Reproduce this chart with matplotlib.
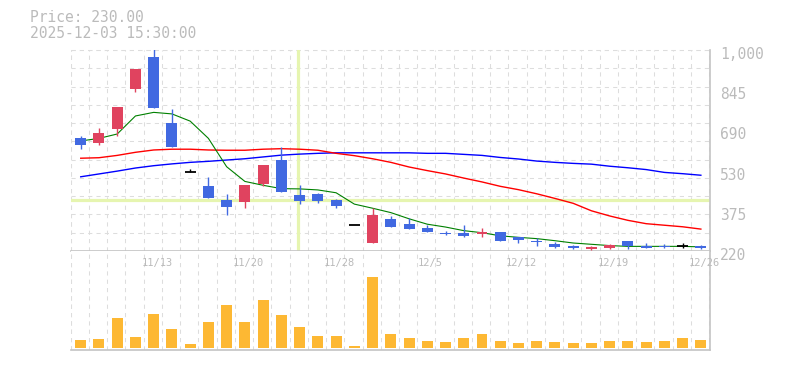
import numpy as np
import matplotlib
matplotlib.use("Agg")
import matplotlib.pyplot as plt

# daily candles, 2025-11-07 .. 2025-12-26
opens  = [657, 640, 695, 850, 973, 717, 525, 472, 418, 411, 480, 573, 437, 441, 418, 320, 252, 344,
          325, 310, 291, 289, 287, 294, 273, 260, 249, 241, 228, 233, 259, 239, 239, 239, 238]
highs  = [667, 697, 779, 926, 1010, 771, 538, 506, 441, 476, 554, 622, 476, 445, 422, 320, 386, 356,
          348, 321, 298, 321, 309, 294, 273, 270, 254, 245, 241, 248, 259, 251, 247, 251, 243]
lows   = [617, 632, 667, 838, 776, 624, 525, 427, 361, 388, 473, 450, 401, 407, 388, 320, 252, 314,
          307, 295, 282, 275, 274, 260, 252, 240, 232, 227, 225, 229, 229, 233, 231, 232, 227]
closes = [632, 678, 779, 926, 776, 624, 525, 427, 391, 476, 554, 450, 415, 415, 396, 320, 360, 314,
          307, 295, 286, 277, 294, 260, 261, 256, 235, 233, 237, 245, 238, 233, 236, 239, 231]
volume = [24, 27, 90, 33, 102, 57, 12, 78, 129, 78, 144, 99, 63, 36, 36, 6, 213, 42,
          30, 21, 18, 30, 42, 21, 15, 21, 18, 15, 15, 21, 21, 18, 21, 30, 24]

ma_short = [647, 657, 674, 744, 758, 752, 724, 657, 547, 490, 475, 462, 461, 457, 446, 402, 386, 369,
            345, 324, 313, 299, 291, 279, 273, 268, 260, 251, 246, 241, 238, 238, 238, 238, 236]
ma_mid = [580, 582, 591, 603, 612, 615, 615, 612, 611, 611, 615, 617, 615, 611, 599, 590, 578, 564,
          546, 532, 519, 503, 488, 471, 458, 442, 424, 405, 376, 356, 339, 326, 320, 314, 305]
ma_long = [508, 519, 530, 542, 551, 558, 564, 568, 573, 578, 585, 592, 596, 599, 601, 601, 601, 601,
           601, 599, 599, 595, 591, 583, 577, 569, 564, 560, 557, 549, 543, 536, 525, 520, 514]

date_pos = [4, 9, 14, 19, 24, 29, 34]
date_lbl = ["11/13", "11/20", "11/28", "12/5", "12/12", "12/19", "12/26"]
ytick_vals = [220, 375, 530, 690, 845, 1000]
ytick_lbl = ["220", "375", "530", "690", "845", "1,000"]

UP = "#e0435f"
DOWN = "#4169e1"
GRID = "#dddddd"
AXC = "#c4c4c4"
TXT = "#bbbbbb"
MONO = "DejaVu Sans Mono"

fig = plt.figure(figsize=(7.85, 3.7), dpi=100)
L, R = 70.7 / 785, 710 / 785
ax = fig.add_axes([L, 119 / 370, R - L, 201 / 370])
axv = fig.add_axes([L, 20 / 370, R - L, 99 / 370])

n = len(opens)
x = np.arange(n)
xlim = (-0.55, 34.5)
gridx = np.arange(-0.55, 34.5, 1.0)

for a in (ax, axv):
    a.set_xlim(*xlim)
    a.set_xticks([])
    a.set_xticks(gridx, minor=True)
    a.set_yticks([])
    a.tick_params(which="both", length=0)
    a.grid(which="minor", axis="x", color=GRID, ls=(0, (4, 4)), lw=0.75)
    for s in ("top", "left"):
        a.spines[s].set_visible(False)
    for s in ("right", "bottom"):
        a.spines[s].set_color(AXC)
        a.spines[s].set_linewidth(1.2)
    a.set_axisbelow(True)

# price panel
ax.set_ylim(220, 1000)
ax.set_yticks(np.linspace(220, 1000, 12), minor=True)
ax.grid(which="minor", axis="y", color=GRID, ls=(0, (4, 4)), lw=0.75)
ax.plot([xlim[0], xlim[0]], [220, 1000], color=GRID, ls=(0, (4, 4)), lw=0.75, zorder=0)
ax.plot(xlim, [1000, 1000], color=GRID, ls=(0, (4, 4)), lw=0.75, zorder=0, clip_on=False)
for v, s in zip(ytick_vals, ytick_lbl):
    ax.annotate(s, xy=(1.0, v), xycoords=("axes fraction", "data"),
                xytext=(7.2, -3.3), textcoords="offset points", ha="left", va="center",
                family=MONO, fontsize=10.5, color=TXT, annotation_clip=False)

# crosshair
ax.axvline(11.92, color="#e6f5b0", lw=2.3, zorder=0.8)
ax.axhline(417, color="#e6f5b0", lw=2.3, zorder=0.8)

# moving averages
ax.plot(x, ma_long, color="#0000ff", lw=1.0, zorder=2)
ax.plot(x, ma_mid, color="#ff0000", lw=1.0, zorder=2)
ax.plot(x, ma_short, color="#008000", lw=0.8, zorder=2)

# candles
for i in range(n):
    o, h, l, c = opens[i], highs[i], lows[i], closes[i]
    if c > o:
        col = UP
    elif c < o:
        col = DOWN
    else:
        col = "black"
    ax.vlines(i, l, h, color=col, lw=1.0, zorder=3)
    if c == o:
        ax.hlines(o, i - 0.3, i + 0.3, color=col, lw=1.3, zorder=3)
    else:
        ax.bar(i, max(abs(c - o), 3), bottom=min(o, c), width=0.6, color=col, zorder=3)

# volume panel
axv.set_ylim(-6, 292)
axv.plot([xlim[0], xlim[0]], [-6, 292], color=GRID, ls=(0, (4, 4)), lw=0.75, zorder=0)
axv.bar(x, volume, width=0.6, color="#fdb833", zorder=2)
for p, s in zip(date_pos, date_lbl):
    axv.text(p + 0.18, 256, s, ha="center", va="center", fontsize=7.5,
             family=MONO, color=TXT, clip_on=False)

fig.text(30 / 785, 1 - 18 / 370, "Price: 230.00", family=MONO, fontsize=10.5,
         color=TXT, va="center", ha="left")
fig.text(30 / 785, 1 - 33.5 / 370, "2025-12-03 15:30:00", family=MONO, fontsize=10.5,
         color=TXT, va="center", ha="left")

fig.savefig("out.png", dpi=100)
